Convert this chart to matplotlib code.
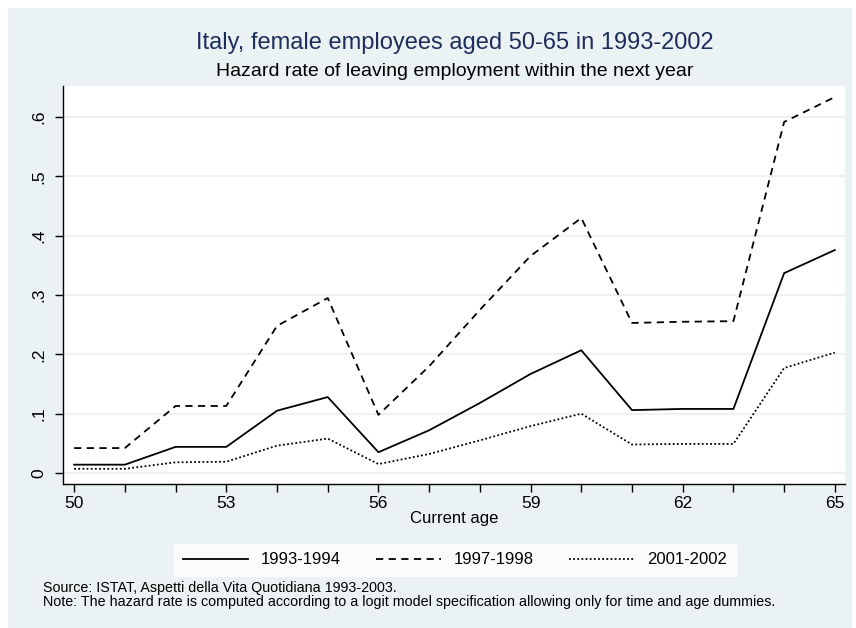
import matplotlib
matplotlib.use("Agg")
import matplotlib.pyplot as plt
from matplotlib.patches import Rectangle

plt.rcParams['font.family'] = ['Liberation Sans', 'DejaVu Sans']

ages = list(range(50, 66))
rate_9394 = [0.014, 0.014, 0.044, 0.044, 0.105, 0.128, 0.035, 0.072,
             0.118, 0.167, 0.207, 0.106, 0.108, 0.108, 0.337, 0.376]
rate_9798 = [0.042, 0.042, 0.113, 0.113, 0.248, 0.295, 0.098, 0.180,
             0.275, 0.366, 0.430, 0.253, 0.255, 0.256, 0.592, 0.634]
rate_0102 = [0.007, 0.007, 0.018, 0.019, 0.046, 0.058, 0.015, 0.032,
             0.055, 0.079, 0.100, 0.048, 0.049, 0.049, 0.177, 0.203]
series_labels = ["1993-1994", "1997-1998", "2001-2002"]
x_ticks = [50, 53, 56, 59, 62, 65]
y_ticks = [0, 0.1, 0.2, 0.3, 0.4, 0.5, 0.6]
y_tick_labels = ["0", ".1", ".2", ".3", ".4", ".5", ".6"]

bg = "#eaf2f3"
W, H = 856, 628
fig = plt.figure(figsize=(W / 100, H / 100), dpi=100)
fig.patch.set_facecolor("white")
fig.patches.append(Rectangle((8 / W, 0), (852 - 8) / W, 1 - 8 / H,
                             transform=fig.transFigure, facecolor=bg,
                             edgecolor="none", zorder=-10))

ax = fig.add_axes([63 / W, 1 - 484 / H, (845 - 63) / W, (484 - 86) / H])
ax.set_facecolor("white")

ax.plot(ages, rate_9394, color="black", lw=1.3, ls="-", label=series_labels[0])
ax.plot(ages, rate_9798, color="black", lw=1.3, ls=(0, (4, 3)), label=series_labels[1])
ax.plot(ages, rate_0102, color="black", lw=1.3, ls=(0, (1, 1.3)), label=series_labels[2])

ax.set_xlim(49.78, 65.2)
ax.set_ylim(-0.0186, 0.6526)
ax.set_xticks(x_ticks)
ax.set_xticks(ages, minor=True)
ax.set_yticks(y_ticks)
ax.set_yticklabels(y_tick_labels, rotation=90, va="center")
ax.tick_params(axis="both", which="both", direction="out", length=6, width=1,
               labelsize=12.5, color="black")
ax.tick_params(axis="y", pad=6)
ax.tick_params(axis="x", pad=3)
ax.grid(axis="y", color=bg, lw=1.5)
ax.set_axisbelow(True)
for s in ["top", "right"]:
    ax.spines[s].set_visible(False)
for s in ["left", "bottom"]:
    ax.spines[s].set_linewidth(1)
ax.set_xlabel("Current age", fontsize=12, labelpad=0)

fig.text(455 / W, 1 - 43 / H, "Italy, female employees aged 50-65 in 1993-2002",
         ha="center", va="center", fontsize=17, color="#1e2d5c")
fig.text(455 / W, 1 - 72 / H, "Hazard rate of leaving employment within the next year",
         ha="center", va="center", fontsize=14, color="black")

leg = fig.legend(loc="center", bbox_to_anchor=(455 / W, 1 - 560 / H), ncol=3,
                 frameon=True, fancybox=False, fontsize=12, handlelength=3.9,
                 columnspacing=2.1, handletextpad=0.8, borderpad=0.5,
                 borderaxespad=0)
leg.get_frame().set_facecolor("white")
leg.get_frame().set_edgecolor("white")

fig.text(43 / W, 1 - 588 / H, "Source: ISTAT, Aspetti della Vita Quotidiana 1993-2003.",
         ha="left", va="center", fontsize=10.3)
fig.text(43 / W, 1 - 602 / H,
         "Note: The hazard rate is computed according to a logit model specification allowing only for time and age dummies.",
         ha="left", va="center", fontsize=10.3)

fig.savefig("out.png", dpi=100, facecolor=fig.get_facecolor())
